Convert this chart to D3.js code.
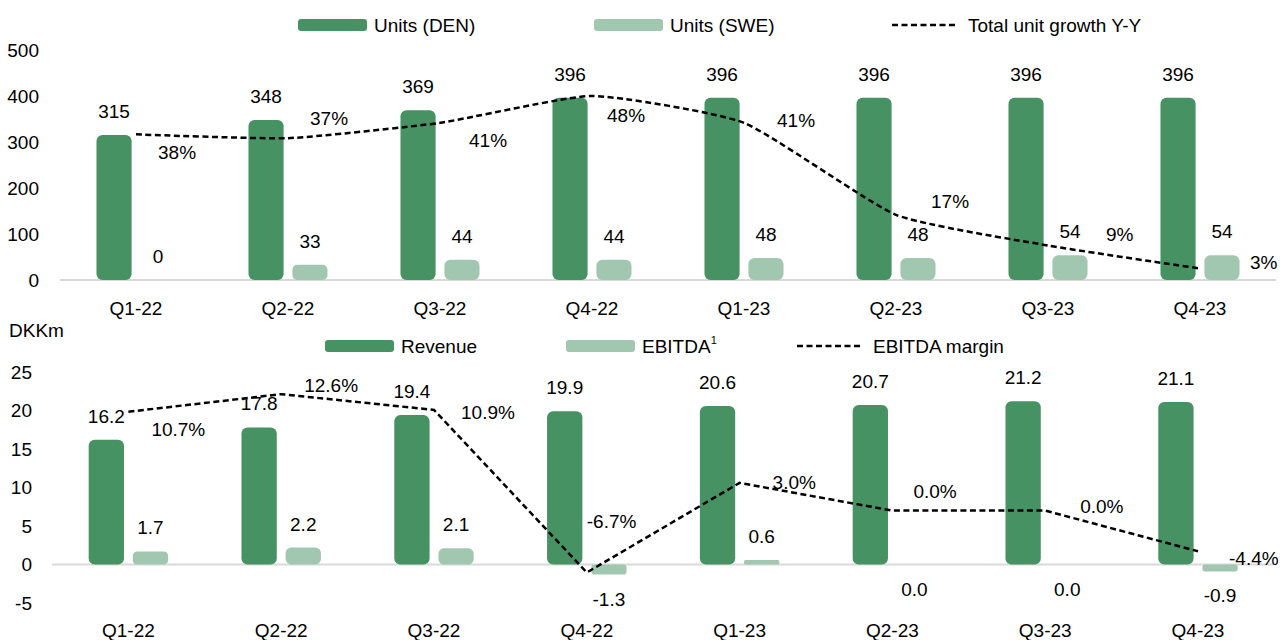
<!DOCTYPE html>
<html>
<head>
<meta charset="utf-8">
<script src="https://cdn.jsdelivr.net/npm/d3@7"></script>
<style>
    body { margin: 0; background: #fff; }
    svg text { font-family: "Liberation Sans", Arial, sans-serif; font-size: 19px; fill: #000; }
</style>
</head>
<body>
<script>
/* chart values */
const quarters = ["Q1-22", "Q2-22", "Q3-22", "Q4-22", "Q1-23", "Q2-23", "Q3-23", "Q4-23"];
const unitsDen = [315, 348, 369, 396, 396, 396, 396, 396];
const unitsSwe = [0, 33, 44, 44, 48, 48, 54, 54];
const unitGrowth = [0.38, 0.37, 0.41, 0.48, 0.41, 0.17, 0.09, 0.03];
const revenue = [16.2, 17.8, 19.4, 19.9, 20.6, 20.7, 21.2, 21.1];
const ebitda = [1.7, 2.2, 2.1, -1.3, 0.6, 0.0, 0.0, -0.9];
const ebitdaMargin = [0.107, 0.126, 0.109, -0.067, 0.030, 0.000, 0.000, -0.044];
const unitTicks = [0, 100, 200, 300, 400, 500];
const dkkTicks = [-5, 0, 5, 10, 15, 20, 25];

// hand placed line labels (offset from the point: left edge, baseline)
const growthLabelShift = [[22, 25], [22, -13], [29, 24], [15, 26], [33, 4], [35, -7], [58, -5], [50, 0]];
const marginLabelShift = [[23, 24], [23, -2], [27, 9], [0, -45], [33, 6], [21, -13], [35, 2], [31, 14]];

const darkGreen = "#479263";
const lightGreen = "#a2c7b0";

const svg = d3.select("body").append("svg")
    .attr("width", 1280)
    .attr("height", 640);

// d3 writes a unicode minus, the original uses a plain hyphen
const plain = f => v => f(v).replace("\u2212", "-");

function ComboChart(cfg) {
    let obj = {};
    let g, x, xInner, y, y2;

    obj.setUpChart = () => {
        g = svg.append("g");
        obj.createScales();
        obj.createAxes();
        obj.createBars();
        obj.createLine();
        obj.createLegend();
    }

    obj.createScales = () => {
        x = d3.scaleBand()
            .domain(quarters)
            .range(cfg.xRange)
            .paddingInner(0.48)
            .paddingOuter(0.24);
        // two bars side by side inside each quarter
        xInner = d3.scaleBand()
            .domain([0, 1])
            .range([0, x.bandwidth()])
            .paddingInner(0.2);
        y = d3.scaleLinear().domain(cfg.yDomain).range(cfg.yRange);
        y2 = d3.scaleLinear().domain(cfg.y2Domain).range(cfg.yRange);
    }

    obj.createAxes = () => {
        const yAxis = d3.axisLeft(y)
            .tickValues(cfg.ticks)
            .tickFormat(plain(d3.format("d")))
            .tickSize(0)
            .tickPadding(3);
        g.append("g")
            .attr("transform", "translate(" + cfg.yLabelX + ",0)")
            .call(yAxis)
            .call(a => a.select(".domain").remove())
            .selectAll("text").attr("font-size", null).attr("font-family", null);

        const xAxis = d3.axisBottom(x).tickSize(0).tickPadding(0);
        g.append("g")
            .attr("transform", "translate(0," + cfg.xLabelY + ")")
            .call(xAxis)
            .call(a => a.select(".domain").remove())
            .selectAll("text").attr("font-size", null).attr("font-family", null);

        // zero line
        g.append("line")
            .attr("x1", cfg.xRange[0])
            .attr("x2", cfg.xRange[1])
            .attr("y1", y(0))
            .attr("y2", y(0))
            .attr("stroke", "#d9d9d9")
            .attr("stroke-width", 2);
    }

    obj.createBars = () => {
        cfg.bars.forEach((s, k) => {
            const rows = s.values.map((v, i) => ({q: quarters[i], v: v}));
            g.selectAll(".bar" + k)
                .data(rows)
                .enter()
                .append("rect")
                .attr("class", "bar" + k)
                .attr("x", d => x(d.q) + xInner(k))
                .attr("y", d => Math.min(y(d.v), y(0)))
                .attr("width", xInner.bandwidth())
                .attr("height", d => Math.abs(y(d.v) - y(0)))
                .attr("rx", d => Math.min(6, Math.abs(y(d.v) - y(0)) / 3))
                .attr("fill", s.color);

            g.selectAll(".barlabel" + k)
                .data(rows)
                .enter()
                .append("text")
                .attr("x", d => x(d.q) + xInner(k) + xInner.bandwidth() / 2)
                .attr("y", d => {
                    const below = d.v < 0 || (d.v === 0 && s.zeroBelow);
                    return below ? y(Math.min(d.v, 0)) + 31 : y(d.v) - 17;
                })
                .attr("text-anchor", "middle")
                .text(d => s.format(d.v));
        });
    }

    obj.createLine = () => {
        const pts = cfg.line.values.map((v, i) => ({q: quarters[i], v: v, i: i}));
        const line = d3.line()
            .x(d => x(d.q) + x.bandwidth() / 2)
            .y(d => y2(d.v))
            .curve(cfg.line.curve);

        g.append("path")
            .datum(pts)
            .attr("d", line)
            .attr("fill", "none")
            .attr("stroke", "#000")
            .attr("stroke-width", 2.5)
            .attr("stroke-dasharray", "6 3.5");

        g.selectAll(".linelabel")
            .data(pts)
            .enter()
            .append("text")
            .attr("x", d => x(d.q) + x.bandwidth() / 2 + cfg.line.shift[d.i][0])
            .attr("y", d => y2(d.v) + cfg.line.shift[d.i][1])
            .text(d => cfg.line.format(d.v));
    }

    obj.createLegend = () => {
        cfg.legend.forEach(item => {
            const cy = cfg.legendY;
            if (item.dashed) {
                g.append("line")
                    .attr("x1", item.x).attr("x2", item.x + 66)
                    .attr("y1", cy).attr("y2", cy)
                    .attr("stroke", "#000")
                    .attr("stroke-width", 2.5)
                    .attr("stroke-dasharray", "6 3.5");
            } else {
                g.append("rect")
                    .attr("x", item.x).attr("y", cy - 6)
                    .attr("width", 69).attr("height", 12)
                    .attr("rx", 3)
                    .attr("fill", item.color);
            }
            const t = g.append("text")
                .attr("x", item.x + 76)
                .attr("y", cy + 6.5)
                .text(item.label);
            if (item.sup) {
                t.append("tspan")
                    .attr("dy", -9)
                    .attr("font-size", 11)
                    .text(item.sup);
            }
        });
    }

    return obj;
}

const fmtInt = plain(d3.format("d"));
const fmtOne = plain(d3.format(".1f"));

var unitsChart = ComboChart({
    xRange: [60, 1276],
    yDomain: [0, 500],
    y2Domain: [0, 0.6],
    yRange: [280, 50],
    ticks: unitTicks,
    yLabelX: 42,
    xLabelY: 301.5,
    legendY: 25,
    bars: [
        {values: unitsDen, color: darkGreen, format: fmtInt},
        {values: unitsSwe, color: lightGreen, format: fmtInt}
    ],
    line: {values: unitGrowth, format: plain(d3.format(".0%")), shift: growthLabelShift,
           curve: d3.curveCardinal.tension(0.5)},
    legend: [
        {x: 298, color: darkGreen, label: "Units (DEN)"},
        {x: 594, color: lightGreen, label: "Units (SWE)"},
        {x: 892, dashed: true, label: "Total unit growth Y-Y"}
    ]
});
unitsChart.setUpChart();

var moneyChart = ComboChart({
    xRange: [52, 1274.4],
    yDomain: [-5, 25],
    y2Domain: [-0.10, 0.15],
    yRange: [603, 372],
    ticks: dkkTicks,
    yLabelX: 35,
    xLabelY: 623.5,
    legendY: 346,
    bars: [
        {values: revenue, color: darkGreen, format: fmtOne},
        {values: ebitda, color: lightGreen, format: fmtOne, zeroBelow: true}
    ],
    line: {values: ebitdaMargin, format: plain(d3.format(".1%")), shift: marginLabelShift,
           curve: d3.curveLinear},
    legend: [
        {x: 325, color: darkGreen, label: "Revenue"},
        {x: 566, color: lightGreen, label: "EBITDA", sup: "1"},
        {x: 797, dashed: true, label: "EBITDA margin"}
    ]
});
moneyChart.setUpChart();

// unit label above the lower value axis
svg.append("text")
    .attr("x", 9)
    .attr("y", 337)
    .text("DKKm");
</script>
</body>
</html>
